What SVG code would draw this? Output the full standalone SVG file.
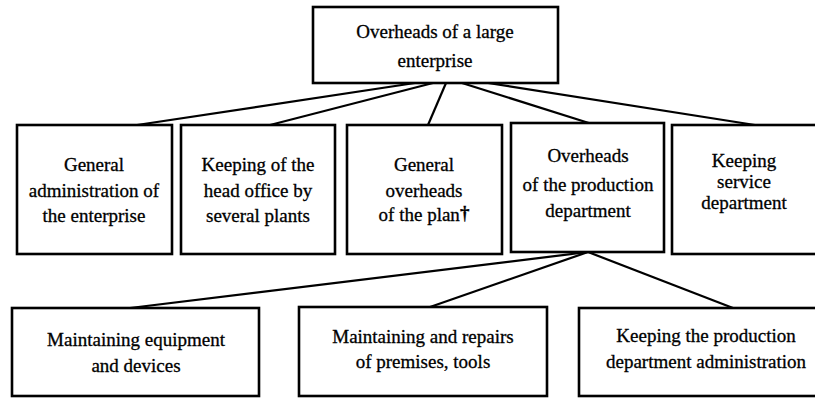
<svg xmlns="http://www.w3.org/2000/svg" width="815" height="398" viewBox="0 0 815 398" font-family="Liberation Serif, DejaVu Serif, serif">
<style>
.box{fill:#fff;stroke:#000;stroke-width:2.6}
.lbl{font-size:19px;fill:#000;stroke:#000;stroke-width:0.3;text-anchor:middle}
.con line{stroke:#000;stroke-width:2.2}
</style>
<rect width="815" height="398" fill="#fff"/>
<g id="connectors" class="con">
<line x1="415" y1="83" x2="137" y2="125"/>
<line x1="433" y1="83" x2="270" y2="125"/>
<line x1="446" y1="83" x2="428" y2="125"/>
<line x1="462" y1="83" x2="592" y2="124"/>
<line x1="488" y1="83" x2="755" y2="125"/>
<line x1="588" y1="252" x2="130" y2="308"/>
<line x1="588" y1="252" x2="430" y2="307"/>
<line x1="588" y1="252" x2="733" y2="308"/>
</g>
<g id="root">
<rect class="box" x="313" y="7" width="245" height="76"/>
<text class="lbl" x="435" y="38">Overheads of a large</text>
<text class="lbl" x="435" y="67">enterprise</text>
</g>
<g id="general-admin">
<rect class="box" x="17" y="125" width="155" height="129"/>
<text class="lbl" x="94" y="171">General</text>
<text class="lbl" x="94" y="197">administration of</text>
<text class="lbl" x="94" y="222">the enterprise</text>
</g>
<g id="head-office">
<rect class="box" x="181" y="125" width="154" height="129"/>
<text class="lbl" x="258" y="171">Keeping of the</text>
<text class="lbl" x="258" y="197">head office by</text>
<text class="lbl" x="258" y="222">several plants</text>
</g>
<g id="plant-overheads">
<rect class="box" x="347" y="125" width="155" height="129"/>
<text class="lbl" x="424" y="171">General</text>
<text class="lbl" x="424" y="197">overheads</text>
<text class="lbl" x="424" y="221">of the plan<tspan font-weight="bold" dy="-2">†</tspan></text>
</g>
<g id="production-dept">
<rect class="box" x="511" y="123" width="153" height="129"/>
<text class="lbl" x="588" y="162">Overheads</text>
<text class="lbl" x="588" y="191">of the production</text>
<text class="lbl" x="588" y="217">department</text>
</g>
<g id="service-dept">
<rect class="box" x="672" y="125" width="150" height="129"/>
<text class="lbl" x="744" y="167">Keeping</text>
<text class="lbl" x="744" y="188">service</text>
<text class="lbl" x="744" y="209">department</text>
</g>
<g id="equipment">
<rect class="box" x="12" y="308" width="247" height="88"/>
<text class="lbl" x="136" y="346">Maintaining equipment</text>
<text class="lbl" x="136" y="372">and devices</text>
</g>
<g id="premises">
<rect class="box" x="299" y="307" width="248" height="89"/>
<text class="lbl" x="423" y="343">Maintaining and repairs</text>
<text class="lbl" x="423" y="368">of premises, tools</text>
</g>
<g id="dept-admin">
<rect class="box" x="579" y="308" width="254" height="88"/>
<text class="lbl" x="706" y="342">Keeping the production</text>
<text class="lbl" x="706" y="368">department administration</text>
</g>
</svg>
